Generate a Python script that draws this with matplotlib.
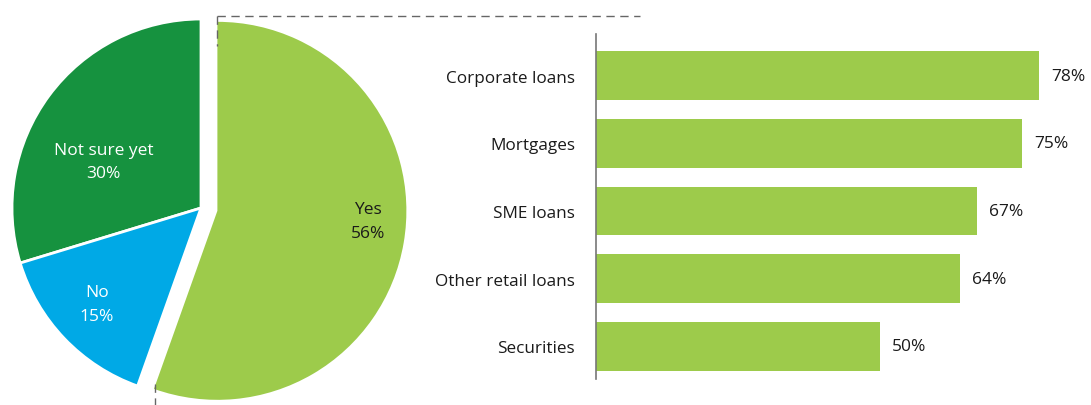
import matplotlib
matplotlib.use('Agg')
import matplotlib.pyplot as plt
import numpy as np

plt.rcParams['font.family'] = ['Open Sans', 'DejaVu Sans']

# pie data
pie_labels = ['Not sure yet', 'No', 'Yes']
pie_values = [30, 15, 56]
pie_colors = ['#16923f', '#00a9e6', '#9dcb4b']

# bar data
bar_labels = ['Corporate loans', 'Mortgages', 'SME loans', 'Other retail loans', 'Securities']
bar_values = [78, 75, 67, 64, 50]

W, H = 1091, 406
fig = plt.figure(figsize=(W / 100, H / 100), dpi=100)

# pie axes in pixel units (y up)
ax = fig.add_axes([0, 0, 1, 1])

R = 189
cx, cy = 201, H - 209
wedges, _ = ax.pie(pie_values, colors=pie_colors, startangle=90, counterclock=True,
                   radius=R, center=(cx, cy), explode=[0, 0, 0.088 * R],
                   wedgeprops=dict(edgecolor='white', linewidth=2))
# pie() resets the limits, so put pixel limits back afterwards
ax.set_xlim(0, W)
ax.set_ylim(0, H)
ax.set_aspect('equal')
ax.axis('off')
# the exploded slice has no white outline in the reference
wedges[2].set_linewidth(0)

# label placement: radius fraction and angle nudge per slice
lab_r = [0.57, 0.75, 0.80]
lab_da = [11, -1, 6]
lab_col = ['white', 'white', '#1a1a1a']
for w, lab, v, fr, da, c in zip(wedges, pie_labels, pie_values, lab_r, lab_da, lab_col):
    ang = np.deg2rad((w.theta1 + w.theta2) / 2 + da)
    x0, y0 = w.center
    tx = x0 + fr * R * np.cos(ang)
    ty = y0 + fr * R * np.sin(ang)
    ax.text(tx, ty, f'{lab}\n{v}%', ha='center', va='center', color=c,
            fontsize=12.5, linespacing=1.65)

# dashed connector lines
dash = dict(color='#666666', linewidth=1, linestyle=(0, (6, 4)))
ax.plot([217, 640], [H - 17, H - 17], **dash)
ax.plot([217, 217], [H - 17, H - 47], **dash)
ax.plot([155, 155], [H - 385, 0], **dash)

# bar chart
left_px, right_px = 596, 1086
top_px, bot_px = 35, 380
bx = fig.add_axes([left_px / W, 1 - bot_px / H, (right_px - left_px) / W, (bot_px - top_px) / H])
scale = 5.68  # px per percent
bx.set_xlim(0, (right_px - left_px) / scale)
pos = np.arange(len(bar_labels))
bx.set_ylim(4.48, -0.613)
bx.barh(pos, bar_values, height=0.72, color='#9dcb4b')
for p, v in zip(pos, bar_values):
    bx.annotate(f'{v}%', (v, p), xytext=(12, 0), textcoords='offset pixels',
                va='center', ha='left', fontsize=12.5, color='#1a1a1a')
bx.set_yticks(pos)
bx.set_yticklabels(bar_labels, fontsize=12.3, color='#1a1a1a')
bx.tick_params(axis='y', length=0, pad=15)
bx.set_xticks([])
for s in ['top', 'right', 'bottom']:
    bx.spines[s].set_visible(False)
bx.spines['left'].set_color('#777777')
bx.spines['left'].set_linewidth(1.2)
bx.patch.set_alpha(0)

fig.savefig('out.png', dpi=100)
